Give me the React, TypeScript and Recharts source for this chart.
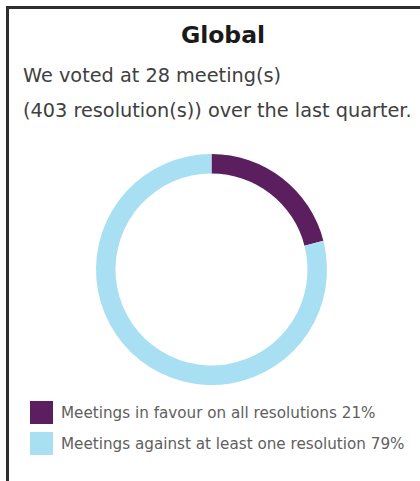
import React from "react";
import { PieChart, Pie, Cell, Legend } from "recharts";

const categories = [
  "Meetings in favour on all resolutions",
  "Meetings against at least one resolution",
];
const values = [21, 79];
const colors = ["#5b1e5e", "#a9dff3"];
const title = "Global";
const subtitleLines = [
  "We voted at 28 meeting(s)",
  "(403 resolution(s)) over the last quarter.",
];

const data = categories.map((name, i) => ({ name, value: values[i] }));

const FONT = "'DejaVu Sans', sans-serif";

const LegendContent = () => (
  <div style={{ fontFamily: FONT }}>
    {data.map((d, i) => (
      <div
        key={d.name}
        style={{ display: "flex", alignItems: "center", height: 31, marginLeft: 30 }}
      >
        <div style={{ width: 23, height: 23, background: colors[i], marginRight: 8, flexShrink: 0 }} />
        <span style={{ fontSize: 15.2, fontWeight: 400, color: "#606060", whiteSpace: "nowrap" }}>
          {d.name} {d.value}%
        </span>
      </div>
    ))}
  </div>
);

export default function App() {
  return (
    <div
      style={{
        position: "fixed",
        left: 0,
        top: 0,
        width: 420,
        height: 481,
        overflow: "hidden",
        background: "#fff",
      }}
    >
      <div
        style={{
          position: "absolute",
          left: 6,
          top: 6,
          width: 460,
          height: 520,
          border: "3px solid #2e2e2e",
          boxSizing: "border-box",
        }}
      />
      <svg
        width={420}
        height={130}
        style={{ position: "absolute", left: 0, top: 0 }}
      >
        <text
          x={223}
          y={43}
          textAnchor="middle"
          fontFamily={FONT}
          fontWeight={700}
          fontSize={23.5}
          fill="#1a1a1a"
        >
          {title}
        </text>
        {subtitleLines.map((t, i) => (
          <text
            key={i}
            x={23}
            y={82 + i * 35}
            fontFamily={FONT}
            fontWeight={400}
            fontSize={19.3}
            fill="#404040"
          >
            {t}
          </text>
        ))}
      </svg>
      <div style={{ position: "absolute", left: 0, top: 0 }}>
        <PieChart width={420} height={470} margin={{ top: 0, right: 0, bottom: 0, left: 0 }}>
          <Pie
            data={data}
            dataKey="value"
            nameKey="name"
            cx={211.5}
            cy={269.5}
            innerRadius={96}
            outerRadius={115.5}
            startAngle={90}
            endAngle={-270}
            stroke="none"
            isAnimationActive={false}
          >
            {data.map((d, i) => (
              <Cell key={d.name} fill={colors[i]} />
            ))}
          </Pie>
          <Legend
            content={<LegendContent />}
            wrapperStyle={{ position: "absolute", left: 0, top: 397, width: 420 }}
          />
        </PieChart>
      </div>
    </div>
  );
}
